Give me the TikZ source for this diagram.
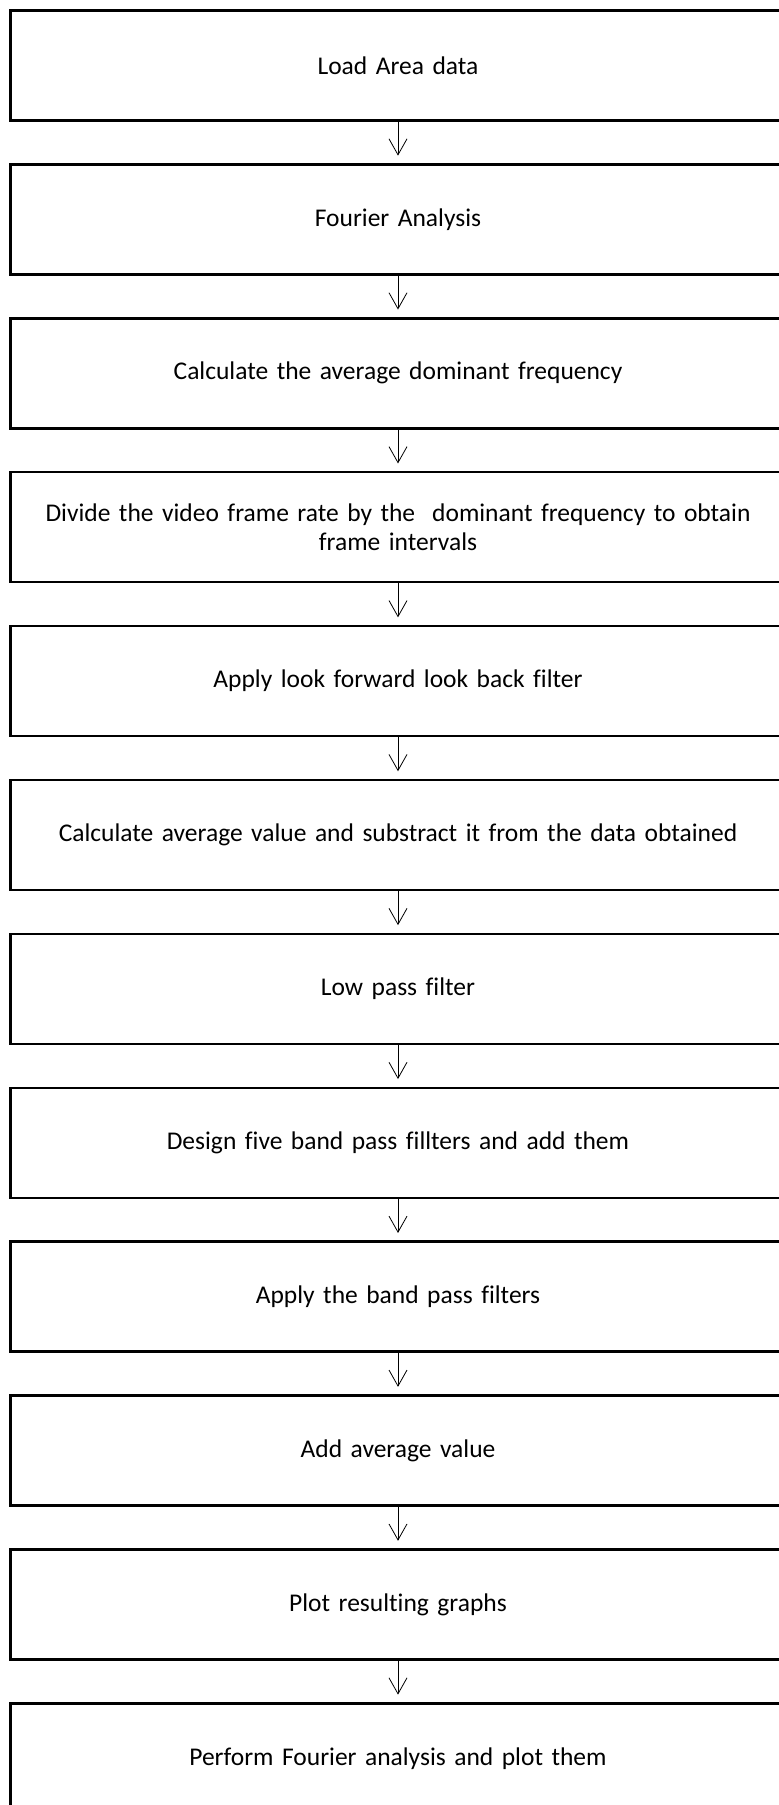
\documentclass[tikz,border=0pt]{standalone}
\usepackage{fontspec}
\setmainfont{Carlito}[Ligatures={TeX,NoCommon}]
\usepackage{tikz}
\usetikzlibrary{arrows.meta}
\usetikzlibrary{positioning}
\tikzstyle{stage}=[draw=black,line width=2.5pt,rectangle,minimum width=775pt,
                minimum height=110pt,text width=750pt,align=center,inner sep=0,
                font=\fontsize{25.5}{29}\selectfont]
\tikzstyle{flow}=[line width=0.8pt,-{Straight Barb[length=16pt,width=18pt,line width=0.8pt]},
                shorten >=7.5pt]

\begin{document}
\begin{tikzpicture}[node distance=153.9pt,on grid]
\useasboundingbox (0,0) rectangle (779pt,-1805pt);
\node[stage] (load) at (398pt,-65.5pt) {Load Area data};
\node[stage,below=of load] (fourier) {Fourier Analysis};
\node[stage,below=of fourier] (avgfreq) {Calculate the average dominant frequency};
\node[stage,below=of avgfreq] (divide) {Divide the video frame rate by the~ dominant frequency to obtain\\frame intervals};
\node[stage,below=of divide] (lookfilt) {Apply look forward look back filter};
\node[stage,below=of lookfilt] (subavg) {Calculate average value and substract it from the data obtained};
\node[stage,below=of subavg] (lowpass) {Low pass filter};
\node[stage,below=of lowpass] (design) {Design five band pass fillters and add them};
\node[stage,below=of design] (applybp) {Apply the band pass filters};
\node[stage,below=of applybp] (addavg) {Add average value};
\node[stage,below=of addavg] (plot) {Plot resulting graphs};
\node[stage,below=of plot] (perform) {Perform Fourier analysis and plot them};
\draw[flow] (load) -- (fourier);
\draw[flow] (fourier) -- (avgfreq);
\draw[flow] (avgfreq) -- (divide);
\draw[flow] (divide) -- (lookfilt);
\draw[flow] (lookfilt) -- (subavg);
\draw[flow] (subavg) -- (lowpass);
\draw[flow] (lowpass) -- (design);
\draw[flow] (design) -- (applybp);
\draw[flow] (applybp) -- (addavg);
\draw[flow] (addavg) -- (plot);
\draw[flow] (plot) -- (perform);
\end{tikzpicture}
\end{document}
